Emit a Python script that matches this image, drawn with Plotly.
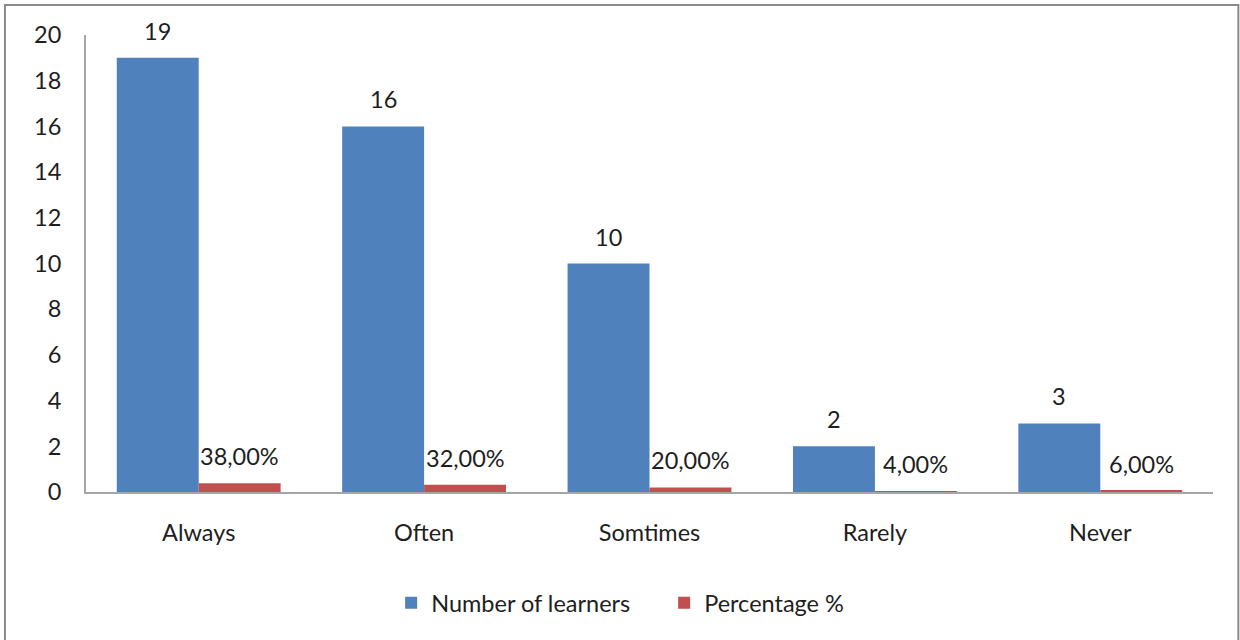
import plotly.graph_objects as go

categories = ["Always", "Often", "Somtimes", "Rarely", "Never"]
learners = [19, 16, 10, 2, 3]
percentage = [0.38, 0.32, 0.20, 0.04, 0.06]

y_ticks = [0, 2, 4, 6, 8, 10, 12, 14, 16, 18, 20]

BLUE = "#4F81BD"
RED = "#C0504D"
FONT = "Lato"
SIZE = 23.5
TEXT_COLOR = "#1e1e1e"


def pct_label(v):
    return f"{v * 100:.2f}".replace(".", ",") + "%"


fig = go.Figure()
fig.add_trace(go.Bar(
    name="Number of learners", x=categories, y=learners,
    marker=dict(color=BLUE, line=dict(width=0)),
))
fig.add_trace(go.Bar(
    name="Percentage %", x=categories, y=percentage,
    marker=dict(color=RED, line=dict(width=0)),
))

# value labels above each bar
annotations = []
for cat, v in zip(categories, learners):
    annotations.append(dict(
        x=cat, y=v, xref="x", yref="y", text=str(v), showarrow=False,
        yanchor="bottom", xanchor="center", xshift=-41, yshift=11,
        font=dict(family=FONT, size=SIZE, color=TEXT_COLOR),
    ))
for cat, v in zip(categories, percentage):
    annotations.append(dict(
        x=cat, y=v, xref="x", yref="y", text=pct_label(v), showarrow=False,
        yanchor="bottom", xanchor="center", xshift=41, yshift=11,
        font=dict(family=FONT, size=SIZE, color=TEXT_COLOR),
    ))

fig.update_layout(
    width=1240, height=640,
    margin=dict(l=86, r=27, t=35, b=148),
    paper_bgcolor="white", plot_bgcolor="white",
    barmode="group", bargap=0.273, bargroupgap=0,
    font=dict(family=FONT, size=SIZE, color=TEXT_COLOR),
    showlegend=True,
    legend=dict(
        orientation="h", x=0.513, xanchor="center", y=-0.243, yanchor="middle",
        font=dict(family=FONT, size=SIZE, color=TEXT_COLOR),
        itemwidth=30, traceorder="normal",
        entrywidth=228, entrywidthmode="pixels",
    ),
    annotations=annotations,
    shapes=[
        # outer chart frame
        dict(type="rect", xref="paper", yref="paper",
             x0=-0.0719, x1=1.0225, y0=-0.45, y1=1.0656,
             line=dict(color="#8a8a8a", width=2), fillcolor="rgba(0,0,0,0)",
             layer="below"),
    ],
)

fig.update_xaxes(
    showline=True, linecolor="#a6a6a6", linewidth=2,
    showgrid=False, ticks="", ticklabelstandoff=19,
    tickfont=dict(family=FONT, size=SIZE, color=TEXT_COLOR),
)
fig.update_yaxes(
    range=[0, 20], tickvals=y_ticks,
    showline=True, linecolor="#a6a6a6", linewidth=2,
    showgrid=False, zeroline=False, ticks="", ticklabelstandoff=18,
    tickfont=dict(family=FONT, size=SIZE, color=TEXT_COLOR),
)

fig.write_html("out.html")
